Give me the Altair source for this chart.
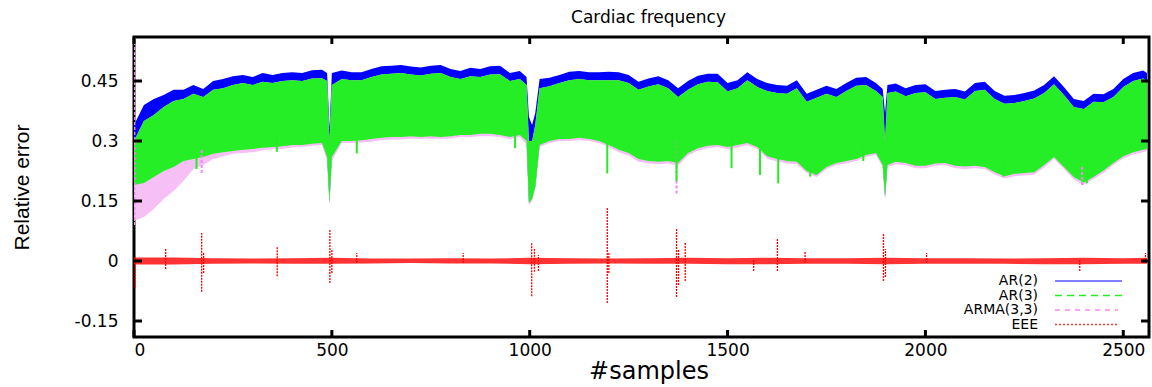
import altair as alt
import pandas as pd

# ---------------- data ----------------
SAMPLES = [0, 25, 50, 75, 100, 125, 150, 175, 200, 225, 250, 275, 300, 325, 350, 375, 400, 425, 450, 475,
           488, 494, 500,
           525, 550, 575, 600, 625, 650, 675, 700, 725, 750, 775, 800, 825, 850, 875, 900, 925, 950, 975,
           992, 998, 1006, 1014, 1025,
           1050, 1075, 1100, 1125, 1150, 1175, 1200, 1225, 1250, 1275, 1300, 1325, 1350, 1375, 1400, 1425, 1450,
           1475, 1500, 1525, 1550, 1575, 1600, 1625, 1650, 1675, 1700, 1725, 1750, 1775, 1800, 1825, 1850, 1875,
           1892, 1898, 1904,
           1925, 1950, 1975, 2000, 2025, 2050, 2075, 2100, 2125, 2150, 2175, 2200, 2225, 2250, 2275, 2300, 2325,
           2350, 2375, 2400, 2425, 2450, 2475, 2500, 2525, 2550,
           2560]

# AR(2): upper envelope
AR2_TOP = [0.34, 0.39, 0.405, 0.415, 0.428, 0.428, 0.44, 0.43, 0.45, 0.455, 0.462, 0.465, 0.46, 0.47, 0.465, 0.47, 0.472, 0.47, 0.477, 0.478,
           0.47, 0.33, 0.47,
           0.476, 0.472, 0.472, 0.48, 0.487, 0.488, 0.49, 0.486, 0.484, 0.488, 0.49, 0.48, 0.475, 0.483, 0.48, 0.487, 0.488, 0.47, 0.475,
           0.46, 0.36, 0.34, 0.37, 0.455,
           0.458, 0.465, 0.473, 0.475, 0.472, 0.472, 0.473, 0.472, 0.465, 0.448, 0.456, 0.462, 0.452, 0.432, 0.45, 0.463, 0.468,
           0.468, 0.445, 0.452, 0.472, 0.455, 0.445, 0.44, 0.438, 0.452, 0.418, 0.428, 0.438, 0.43, 0.445, 0.458, 0.46, 0.445,
           0.43, 0.37, 0.44,
           0.444, 0.432, 0.44, 0.442, 0.425, 0.428, 0.43, 0.424, 0.445, 0.448, 0.425, 0.413, 0.415, 0.42, 0.426, 0.44, 0.462,
           0.435, 0.405, 0.40, 0.418, 0.417, 0.43, 0.455, 0.47, 0.476,
           0.47]

# AR(3): upper and lower envelopes
AR3_TOP = [0.30, 0.35, 0.365, 0.385, 0.40, 0.405, 0.418, 0.41, 0.428, 0.432, 0.44, 0.445, 0.44, 0.448, 0.445, 0.45, 0.452, 0.45, 0.456, 0.457,
           0.45, 0.30, 0.44,
           0.455, 0.452, 0.452, 0.46, 0.466, 0.468, 0.47, 0.466, 0.464, 0.468, 0.47, 0.46, 0.455, 0.462, 0.46, 0.466, 0.467, 0.45, 0.455,
           0.44, 0.30, 0.30, 0.34, 0.432,
           0.437, 0.445, 0.452, 0.455, 0.452, 0.452, 0.452, 0.452, 0.445, 0.428, 0.436, 0.442, 0.432, 0.41, 0.428, 0.442, 0.448,
           0.447, 0.424, 0.432, 0.452, 0.435, 0.425, 0.42, 0.418, 0.432, 0.398, 0.408, 0.418, 0.41, 0.425, 0.438, 0.44, 0.425,
           0.41, 0.30, 0.42,
           0.424, 0.412, 0.42, 0.422, 0.405, 0.408, 0.41, 0.404, 0.425, 0.428, 0.405, 0.393, 0.395, 0.40, 0.406, 0.42, 0.442,
           0.415, 0.385, 0.38, 0.398, 0.397, 0.41, 0.435, 0.45, 0.456,
           0.45]

AR3_LOW = [0.19, 0.195, 0.21, 0.225, 0.235, 0.25, 0.255, 0.26, 0.268, 0.272, 0.275, 0.278, 0.28, 0.283, 0.285, 0.287, 0.29, 0.29, 0.293, 0.295,
           0.26, 0.145, 0.26,
           0.30, 0.30, 0.302, 0.305, 0.308, 0.31, 0.31, 0.312, 0.31, 0.312, 0.31, 0.312, 0.315, 0.315, 0.318, 0.318, 0.315, 0.31, 0.315,
           0.30, 0.145, 0.155, 0.185, 0.29,
           0.30, 0.305, 0.305, 0.308, 0.305, 0.30, 0.29, 0.278, 0.27, 0.255, 0.25, 0.248, 0.25, 0.245, 0.27, 0.282, 0.288,
           0.29, 0.285, 0.29, 0.295, 0.285, 0.262, 0.255, 0.25, 0.248, 0.225, 0.215, 0.235, 0.245, 0.25, 0.255, 0.265, 0.27,
           0.24, 0.16, 0.24,
           0.248, 0.245, 0.238, 0.238, 0.244, 0.245, 0.238, 0.236, 0.238, 0.235, 0.222, 0.212, 0.218, 0.22, 0.222, 0.24, 0.26,
           0.235, 0.21, 0.196, 0.21, 0.226, 0.245, 0.262, 0.272, 0.278,
           0.28]

# ARMA(3,3): lower envelope
ARMA_LOW = [0.10, 0.11, 0.13, 0.155, 0.175, 0.20, 0.23, 0.24, 0.255, 0.262, 0.268, 0.27, 0.272, 0.276, 0.28, 0.28, 0.284, 0.285, 0.288, 0.29,
            0.25, 0.14, 0.25,
            0.295, 0.295, 0.296, 0.298, 0.302, 0.304, 0.304, 0.306, 0.305, 0.306, 0.305, 0.306, 0.31, 0.31, 0.312, 0.312, 0.31, 0.305, 0.31,
            0.29, 0.14, 0.15, 0.18, 0.285,
            0.295, 0.30, 0.30, 0.302, 0.30, 0.295, 0.285, 0.272, 0.264, 0.248, 0.244, 0.242, 0.244, 0.238, 0.264, 0.276, 0.282,
            0.285, 0.28, 0.284, 0.29, 0.28, 0.256, 0.249, 0.244, 0.242, 0.22, 0.21, 0.23, 0.24, 0.244, 0.25, 0.26, 0.265,
            0.235, 0.155, 0.235,
            0.242, 0.24, 0.232, 0.232, 0.238, 0.24, 0.232, 0.23, 0.232, 0.23, 0.216, 0.206, 0.212, 0.214, 0.216, 0.234, 0.255,
            0.23, 0.204, 0.19, 0.205, 0.22, 0.24, 0.256, 0.266, 0.272,
            0.275]

# narrow downward spikes of the AR(3) / ARMA(3,3) curves: sample, low, high
GREEN_SPIKE_S = [158, 361, 563, 963, 1196, 1371, 1510, 1582, 1628, 1709, 1730, 1843, 2197, 2408]
GREEN_SPIKE_LO = [0.23, 0.273, 0.269, 0.282, 0.219, 0.20, 0.232, 0.215, 0.194, 0.211, 0.227, 0.25, 0.211, 0.194]
GREEN_SPIKE_HI = [0.30, 0.32, 0.32, 0.34, 0.32, 0.30, 0.31, 0.30, 0.28, 0.27, 0.28, 0.30, 0.25, 0.25]

PINK_SPIKE_S = [1, 171, 1371, 2396]
PINK_SPIKE_LO = [0.09, 0.22, 0.169, 0.19]
PINK_SPIKE_HI = [0.56, 0.28, 0.30, 0.24]

# EEE: band of the small oscillation around zero
EEE_S = [0, 100, 200, 300, 400, 500, 600, 700, 800, 900, 1000, 1100, 1200, 1300, 1400, 1500, 1600,
         1700, 1800, 1900, 2000, 2100, 2200, 2300, 2400, 2500, 2560]
EEE_HI = [0.009, 0.009, 0.007, 0.006, 0.007, 0.008, 0.006, 0.006, 0.007, 0.006, 0.008, 0.007, 0.006, 0.007,
          0.008, 0.007, 0.008, 0.007, 0.007, 0.008, 0.007, 0.007, 0.006, 0.007, 0.008, 0.007, 0.008]
EEE_LO = [-0.009, -0.009, -0.007, -0.006, -0.007, -0.007, -0.006, -0.005, -0.006, -0.006, -0.008, -0.007, -0.006, -0.007,
          -0.007, -0.008, -0.008, -0.007, -0.007, -0.008, -0.007, -0.007, -0.007, -0.008, -0.008, -0.007, -0.007]
# EEE spikes: sample, low, high
EEE_SPIKE_S = [3, 80, 171, 176, 362, 495, 500, 563, 832, 1005, 1012, 1022, 1196, 1200, 1371, 1376, 1393,
               1566, 1626, 1696, 1894, 1899, 2003, 2390, 2556]
EEE_SPIKE_LO = [-0.068, -0.02, -0.077, -0.03, -0.038, -0.055, -0.03, -0.005, -0.005, -0.088, -0.027, -0.025, -0.105, -0.03,
                -0.09, -0.06, -0.05, -0.025, -0.025, -0.005, -0.05, -0.04, -0.005, -0.025, -0.005]
EEE_SPIKE_HI = [0.01, 0.032, 0.07, 0.02, 0.036, 0.08, 0.03, 0.02, 0.02, 0.045, 0.03, 0.015, 0.133, 0.02,
                0.08, 0.03, 0.045, 0.005, 0.057, 0.025, 0.07, 0.03, 0.02, 0.005, 0.02]

X_TICKS = [0, 500, 1000, 1500, 2000, 2500]
Y_TICKS = [-0.15, 0, 0.15, 0.3, 0.45]

TITLE = "Cardiac frequency"
LEGEND_NAMES = ["AR(2)", "AR(3)", "ARMA(3,3)", "EEE"]
LEGEND_COLORS = ["#5555ff", "#22ee22", "#f08af0", "#ff3333"]
LEGEND_DASH = [[1, 0], [7, 5], [5, 5], [2, 2]]

# ---------------- chart ----------------
W, H = 1015, 300
FONT = "DejaVu Sans"

band = pd.DataFrame({"s": SAMPLES, "ar2_top": AR2_TOP, "ar3_top": AR3_TOP,
                     "ar3_low": AR3_LOW, "arma_low": ARMA_LOW})
gsp = pd.DataFrame({"s": GREEN_SPIKE_S, "lo": GREEN_SPIKE_LO, "hi": GREEN_SPIKE_HI})
psp = pd.DataFrame({"s": PINK_SPIKE_S, "lo": PINK_SPIKE_LO, "hi": PINK_SPIKE_HI})
eee = pd.DataFrame({"s": EEE_S, "hi": EEE_HI, "lo": EEE_LO})
esp = pd.DataFrame({"s": EEE_SPIKE_S, "lo": EEE_SPIKE_LO, "hi": EEE_SPIKE_HI})

xs = alt.Scale(domain=[0, 2565], nice=False, zero=False)
ys = alt.Scale(domain=[-0.19, 0.56], nice=False, zero=False)

x_axis = alt.Axis(values=X_TICKS, format="d", title="#samples", titleFont=FONT, titleFontSize=24,
                  titleFontWeight="normal", titleColor="black", titleX=W / 2 + 7, titleY=41,
                  titleBaseline="alphabetic", titleAlign="center",
                  labelFont=FONT, labelFontSize=17, labelColor="black", labelPadding=5,
                  ticks=False, tickSize=0, domain=False, grid=False)
y_axis = alt.Axis(values=Y_TICKS, format=".2~g", labelExpr="replace(datum.label, '\u2212', '-')",
                  title="Relative error", titleFont="Liberation Sans", titleFontSize=21,
                  titleFontWeight="normal", titleColor="black", titleX=-112, titleY=H / 2,
                  titleAngle=270, titleAlign="center", titleBaseline="middle",
                  labelFont=FONT, labelFontSize=17, labelColor="black", labelPadding=16,
                  ticks=False, tickSize=0, domain=False, grid=False)


def X(field="s"):
    return alt.X(f"{field}:Q", scale=xs, axis=x_axis)


def Y(field):
    return alt.Y(f"{field}:Q", scale=ys, axis=y_axis)


blue = alt.Chart(band).mark_area(color="#0000ff", clip=True).encode(
    x=X(), y=Y("ar3_low"), y2="ar2_top:Q")
pink = alt.Chart(band).mark_area(color="#f6c0f6", clip=True).encode(
    x=X(), y=Y("arma_low"), y2="ar3_top:Q")
green = alt.Chart(band).mark_area(color="#26ee26", clip=True).encode(
    x=X(), y=Y("ar3_low"), y2="ar3_top:Q")
pink_sp = alt.Chart(psp).mark_rule(color="#ee88ee", strokeWidth=2, strokeDash=[3, 2], clip=True).encode(
    x=X(), y=Y("lo"), y2="hi:Q")
green_sp = alt.Chart(gsp).mark_rule(color="#22ee22", strokeWidth=2, clip=True).encode(
    x=X(), y=Y("lo"), y2="hi:Q")
red_band = alt.Chart(eee).mark_area(color="#ff0000", opacity=0.8, clip=True).encode(
    x=X(), y=Y("lo"), y2="hi:Q")
red_sp = alt.Chart(esp).mark_rule(color="#ff0000", strokeWidth=1.3, strokeDash=[2, 1], clip=True).encode(
    x=X(), y=Y("lo"), y2="hi:Q")

xt = pd.DataFrame({"s": X_TICKS})
yt = pd.DataFrame({"v": Y_TICKS})
tick_b = alt.Chart(xt).mark_rule(color="black", strokeWidth=3).encode(x=X(), y=alt.value(H), y2=alt.value(H - 7))
tick_t = alt.Chart(xt).mark_rule(color="black", strokeWidth=3).encode(x=X(), y=alt.value(0), y2=alt.value(7))
tick_l = alt.Chart(yt).mark_rule(color="black", strokeWidth=3).encode(y=Y("v"), x=alt.value(0), x2=alt.value(8))
tick_r = alt.Chart(yt).mark_rule(color="black", strokeWidth=3).encode(y=Y("v"), x=alt.value(W), x2=alt.value(W - 8))

title_layer = alt.Chart(pd.DataFrame({"t": [TITLE]})).mark_text(
    font=FONT, fontSize=17, color="black", align="center", baseline="alphabetic").encode(
    x=alt.value(W / 2 + 7), y=alt.value(-14), text="t:N")

legend_layers = []
for i, (name, col, dash) in enumerate(zip(LEGEND_NAMES, LEGEND_COLORS, LEGEND_DASH)):
    ld = pd.DataFrame({"name": [name]})
    yy = 244 + 14.5 * i
    legend_layers.append(
        alt.Chart(ld).mark_text(align="right", baseline="middle", font=FONT, fontSize=14, color="black").encode(
            x=alt.value(904), y=alt.value(yy), text="name:N"))
    legend_layers.append(
        alt.Chart(ld).mark_rule(color=col, strokeWidth=1.5, strokeDash=dash).encode(
            x=alt.value(921), x2=alt.value(988 if i < 2 else 984), y=alt.value(yy)))

chart = alt.layer(blue, pink, green, pink_sp, green_sp, red_band, red_sp,
                  tick_b, tick_t, tick_l, tick_r, title_layer, *legend_layers).properties(
    width=W, height=H,
    padding={"left": 134, "top": 37, "right": 3, "bottom": 50},
    autosize=alt.AutoSizeParams(type="none"),
    background="white",
).configure_view(stroke="black", strokeWidth=3)

chart.save("out.html", embed_options={"renderer": "svg", "actions": False})
